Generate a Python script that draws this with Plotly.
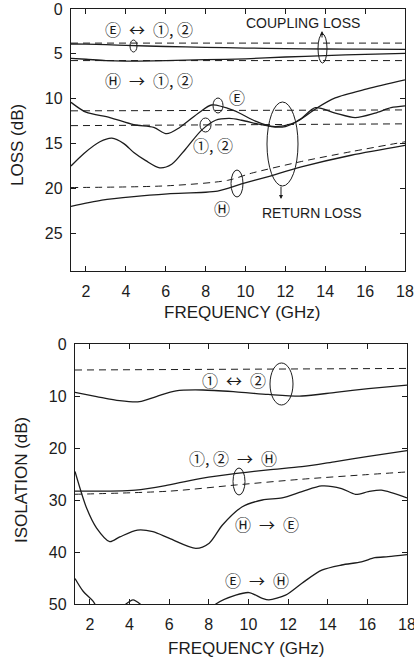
import plotly.graph_objects as go

W, H = 414, 659

# ---------------- Top panel data: LOSS (dB) vs frequency (GHz) ----------------
freq_cpl = [1.25, 2, 3, 4, 6, 8, 10, 12, 14, 16, 18]
cpl_E_meas = [3.9, 3.92, 3.98, 4.05, 4.18, 4.27, 4.35, 4.42, 4.46, 4.48, 4.5]
cpl_H_meas = [5.5, 5.6, 5.75, 5.8, 5.75, 5.65, 5.55, 5.35, 5.2, 5.05, 4.95]
freq_flat = [1.25, 18]
cpl_E_theory = [3.8, 3.8]
cpl_H_theory = [5.75, 5.75]

freq_rlE = [1.25, 2.0, 3.2, 4.4, 5.4, 6.05, 6.7, 7.7, 8.3, 9.4, 10.5, 11.3, 12.0,
            12.7, 13.6, 14.5, 16.1, 18]
rl_E_meas = [10.4, 11.5, 12.1, 12.9, 13.2, 13.9, 13.2, 11.5, 10.7, 11.3, 12.5, 13.1,
             13.1, 12.4, 11.0, 9.9, 8.9, 7.9]
freq_rl12 = [1.25, 1.9, 2.7, 3.3, 3.9, 4.4, 5.0, 5.7, 6.3, 7.0, 7.8, 8.5, 9.2, 9.8,
             10.8, 11.5, 12.3, 12.8, 13.5, 14.5, 15.5, 16.5, 17.3, 18]
rl_12_meas = [17.5, 16.1, 14.8, 14.4, 15.0, 16.0, 16.9, 17.7, 17.3, 15.6, 13.5, 12.4,
              12.2, 12.4, 12.9, 13.1, 12.8, 12.2, 11.0, 11.6, 12.1, 11.6, 11.0, 10.8]
rl_E_theory = [11.35, 11.25]
rl_12_theory = [13.0, 12.8]

freq_rlH = [1.25, 2.8, 4.4, 6.1, 8.6, 9.8, 11.1, 12.8, 15.3, 18]
rl_H_meas = [22.0, 21.3, 20.9, 20.6, 20.3, 19.5, 18.7, 17.6, 16.3, 15.2]
freq_rlH_th = [1.25, 6.1, 9.1, 10.3, 12.8, 15.3, 18]
rl_H_theory = [19.9, 19.7, 19.1, 18.3, 17.0, 15.9, 14.8]

# ---------------- Bottom panel data: ISOLATION (dB) ----------------
freq_i12 = [1.25, 2.34, 3.5, 4.5, 5.35, 6.35, 7.7, 9.36, 11.0, 12.7, 14.4, 16.05, 18]
iso_12_meas = [9.3, 10.1, 10.9, 11.1, 10.1, 9.0, 8.85, 9.2, 9.7, 10.0, 9.3, 8.6, 7.9]
iso_12_theory = [5.0, 4.7]

freq_i12H = [1.25, 4.3, 6.0, 7.7, 9.4, 11.0, 12.7, 14.4, 16.05, 18]
iso_12H_meas = [28.3, 28.1, 27.1, 25.8, 24.9, 24.2, 23.6, 22.6, 21.6, 20.5]
freq_i12H_th = [1.25, 6.0, 9.4, 12.7, 16.05, 18]
iso_12H_theory = [28.9, 28.3, 27.1, 26.0, 25.1, 24.6]

freq_iHE = [1.25, 1.84, 2.34, 3.0, 3.51, 4.4, 5.18, 6.02, 7.35, 8.02, 8.69, 9.69,
            10.7, 11.7, 12.7, 13.7, 14.7, 15.4, 16.05, 16.7, 18]
iso_HE_meas = [24.5, 31.6, 35.4, 38.0, 37.1, 35.8, 36.1, 37.4, 39.3, 38.3, 34.8, 31.3,
               30.0, 29.6, 28.4, 27.3, 27.8, 28.9, 28.4, 28.1, 29.6]

freq_iEH = [1.25, 1.67, 2.17, 2.5, 3.2, 3.76, 4.18, 4.6, 5.2, 7.7, 8.36, 9.36, 10.03,
            10.7, 11.03, 11.87, 12.7, 13.7, 14.7, 15.7, 16.38, 17.05, 18]
iso_EH_meas = [45.1, 47.6, 49.5, 51.5, 52.5, 50.2, 49.2, 50.2, 52.5, 52.5, 50.0, 48.3,
               47.8, 48.9, 49.2, 48.3, 46.0, 43.5, 42.5, 41.9, 41.1, 40.9, 40.5]

x_ticks = [2, 4, 6, 8, 10, 12, 14, 16, 18]
y_ticks_top = [0, 5, 10, 15, 20, 25]
y_ticks_bot = [0, 10, 20, 30, 40, 50]

INK = "#1c1c1c"
TXT = "Liberation Sans, Arial, sans-serif"
SYM = "Noto Sans CJK JP, DejaVu Sans, sans-serif"
SP = "\u2002"

fig = go.Figure()


def line(x, y, dash="solid", axis=1, width=1.3):
    fig.add_trace(go.Scatter(
        x=x, y=y, mode="lines",
        xaxis="x" if axis == 1 else "x2", yaxis="y" if axis == 1 else "y2",
        line=dict(color=INK, width=width, dash=dash, shape="spline", smoothing=0.8),
        showlegend=False, hoverinfo="skip"))


DASH = "7px,5px"
# top panel
line(freq_cpl, cpl_E_meas)
line(freq_cpl, cpl_H_meas)
line(freq_flat, cpl_E_theory, DASH, width=1.0)
line(freq_flat, cpl_H_theory, DASH, width=1.0)
line(freq_rlE, rl_E_meas)
line(freq_rl12, rl_12_meas)
line(freq_flat, rl_E_theory, DASH, width=1.0)
line(freq_flat, rl_12_theory, DASH, width=1.0)
line(freq_rlH, rl_H_meas)
line(freq_rlH_th, rl_H_theory, DASH, width=1.0)
# bottom panel
line(freq_flat, iso_12_theory, DASH, 2, width=1.0)
line(freq_i12, iso_12_meas, axis=2)
line(freq_i12H, iso_12H_meas, axis=2)
line(freq_i12H_th, iso_12H_theory, DASH, 2, width=1.0)
line(freq_iHE, iso_HE_meas, axis=2)
line(freq_iEH, iso_EH_meas, axis=2)


def px(x):
    return x / W


def py(y):
    return 1 - y / H


common_x = dict(range=[1.25, 18], tickvals=x_ticks, ticks="inside", ticklen=5,
                tickcolor=INK, showline=True, linecolor=INK, linewidth=1.3,
                mirror="ticks", showgrid=False, zeroline=False, automargin=False,
                ticklabeloverflow="allow",
                tickfont=dict(family=TXT, size=16, color=INK), ticklabelstandoff=6)
common_y = dict(ticks="inside", ticklen=5, tickcolor=INK, showline=True,
                linecolor=INK, linewidth=1.3, mirror="ticks", showgrid=False,
                zeroline=False, automargin=False, ticklabeloverflow="allow",
                tickfont=dict(family=TXT, size=16, color=INK),
                ticklabelstandoff=4)

fig.update_layout(
    width=W, height=H,
    margin=dict(l=0, r=0, t=0, b=0, pad=0, autoexpand=False),
    paper_bgcolor="white", plot_bgcolor="white", showlegend=False,
    xaxis=dict(domain=[px(71), px(405)], anchor="y", **common_x),
    yaxis=dict(domain=[py(271), py(9)], anchor="x", range=[29.2, 0],
               tickvals=y_ticks_top, **common_y),
    xaxis2=dict(domain=[px(75), px(407)], anchor="y2", **common_x),
    yaxis2=dict(domain=[py(604), py(344)], anchor="x2", range=[50, 0],
                tickvals=y_ticks_bot, **common_y),
)

ann = []


def text(x, y, s, size=16, fam=SYM, angle=0):
    ann.append(dict(x=px(x), y=py(y), xref="paper", yref="paper", text=s,
                    showarrow=False, textangle=angle,
                    xanchor="center", yanchor="middle",
                    font=dict(family=fam, size=size, color=INK)))


# axis titles
text(242, 313, "FREQUENCY (GHz)", 17, TXT)
text(246, 648, "FREQUENCY (GHz)", 17, TXT)
text(18, 145, "LOSS (dB)", 17, TXT, -90)
text(21, 480, "ISOLATION (dB)", 17, TXT, -90)

# top panel labels
text(303, 23, "COUPLING LOSS", 14, TXT)
text(149, 29, "Ⓔ" + SP + "↔" + SP + "①, ②")
text(149, 80, "Ⓗ" + SP + "→" + SP + "①, ②")
text(237, 97, "Ⓔ")
text(213, 145, "①, ②")
text(222, 208, "Ⓗ")
text(312, 213, "RETURN LOSS", 14, TXT)

# bottom panel labels
text(234, 380, "①" + SP + "↔" + SP + "②")
text(233, 458, "①, ②" + SP + "→" + SP + "Ⓗ")
text(267, 524, "Ⓗ" + SP + "→" + SP + "Ⓔ")
text(257, 580, "Ⓔ" + SP + "→" + SP + "Ⓗ")

# arrows from bracket loops toward labels
ann.append(dict(x=px(322), y=py(31), xref="paper", yref="paper", ax=0, ay=8,
                showarrow=True, arrowhead=2, arrowsize=0.8, arrowwidth=1,
                arrowcolor=INK, text=""))
ann.append(dict(x=px(281), y=py(199), xref="paper", yref="paper", ax=0, ay=-14,
                showarrow=True, arrowhead=2, arrowsize=0.8, arrowwidth=1,
                arrowcolor=INK, text=""))
fig.update_layout(annotations=ann)

shapes = []


def loop(x0, y0, x1, y1, w=1.0):
    shapes.append(dict(type="circle", xref="paper", yref="paper",
                       x0=px(x0), x1=px(x1), y0=py(y1), y1=py(y0),
                       line=dict(color=INK, width=w)))


loop(130, 40, 137, 52)
loop(318, 34, 327, 63)
loop(213, 98, 223, 113)
loop(200, 118, 211, 132)
loop(231, 170, 243, 197)
loop(267, 102, 298, 186)
loop(270, 363, 293, 405)
loop(233, 468, 245, 495)
fig.update_layout(shapes=shapes)

fig.write_html("out.html")
